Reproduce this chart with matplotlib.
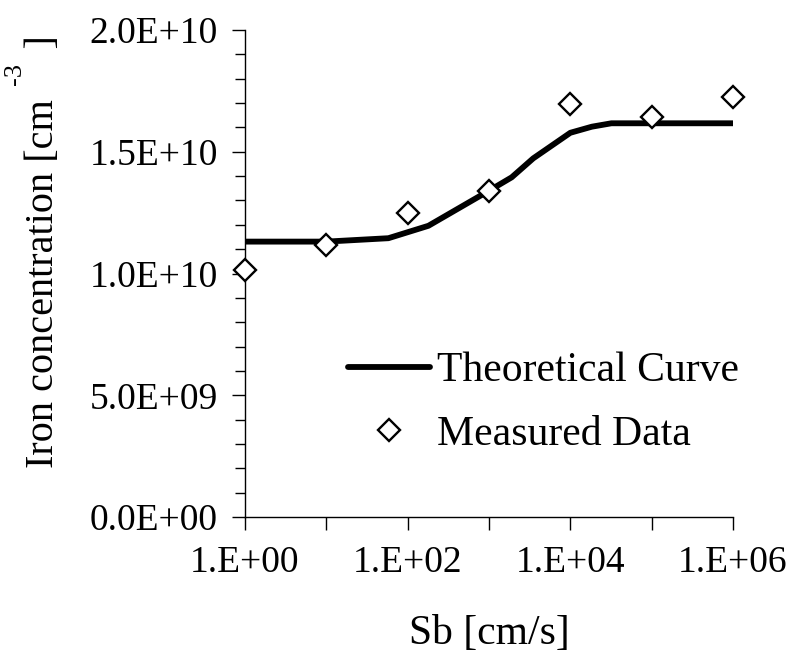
import numpy as np
import matplotlib
import matplotlib.pyplot as plt
from matplotlib.ticker import FixedLocator, FuncFormatter, MultipleLocator, LogLocator, NullFormatter

matplotlib.use('Agg')
plt.rcParams['font.family'] = 'Liberation Serif'

# surface recombination velocity Sb [cm/s] vs iron concentration [cm^-3]
sb_theory = [1, 10, 58, 180, 1000, 1900, 3500, 10000, 18400, 32000, 1e5, 1e6]
fe_theory = [1.131e10, 1.131e10, 1.145e10, 1.196e10, 1.34e10, 1.395e10,
             1.473e10, 1.578e10, 1.603e10, 1.617e10, 1.617e10, 1.617e10]

sb_measured = [1, 10, 100, 1000, 1e4, 1e5, 1e6]
fe_measured = [1.014e10, 1.117e10, 1.247e10, 1.340e10, 1.696e10, 1.644e10, 1.724e10]

fig = plt.figure(figsize=(7.91, 6.57), dpi=100)
ax = fig.add_axes([0.3097, 0.2131, 0.617, 0.7412])

ax.plot(sb_theory, fe_theory, color='black', lw=4.2, solid_capstyle='round',
        label='Theoretical Curve', zorder=2)
ax.plot(sb_measured, fe_measured, ls='none', marker='D', ms=11.5, mfc='white',
        mec='black', mew=1.7, label='Measured Data', zorder=3, clip_on=False)

ax.set_xscale('log')
ax.set_xlim(1, 1e6)
ax.set_ylim(0, 2e10)

for side in ('top', 'right'):
    ax.spines[side].set_visible(False)
for side in ('left', 'bottom'):
    ax.spines[side].set_linewidth(1.0)

decades = [10.0 ** k for k in range(7)]
ax.xaxis.set_major_locator(FixedLocator(decades))
ax.xaxis.set_major_formatter(FuncFormatter(
    lambda v, p: f"1.E+{int(round(np.log10(v))):02d}" if round(np.log10(v)) % 2 == 0 else ''))
ax.xaxis.set_minor_locator(LogLocator(base=10, subs=np.arange(2, 10)))
ax.xaxis.set_minor_formatter(NullFormatter())

ax.yaxis.set_major_locator(MultipleLocator(5e9))
ax.yaxis.set_minor_locator(MultipleLocator(1e9))
ax.yaxis.set_major_formatter(FuncFormatter(lambda v, p: f"{v:.1E}"))

ax.tick_params(which='major', direction='out', length=9.5, width=1.0, labelsize=27)
ax.tick_params(axis='y', which='major', pad=10)
ax.tick_params(axis='x', which='major', pad=11)
ax.tick_params(which='minor', direction='out', length=7, width=1.0)

ax.set_xlabel('Sb [cm/s]', fontsize=30)
ax.set_ylabel('Iron concentration [cm     ]', fontsize=29)
ax.xaxis.set_label_coords(0.5, -0.2)
ax.yaxis.set_label_coords(-0.375, 0.545)
# superscript exponent of the unit, set as its own text
fig.text(15 / 791, 1 - 74 / 657, '-3', rotation=90, fontsize=19,
         ha='center', va='center')

ax.legend(loc='upper left', bbox_to_anchor=(0.211, 0.339), frameon=False,
          fontsize=30, handlelength=1.97, handletextpad=0.17, labelspacing=0.6,
          borderpad=0, borderaxespad=0, numpoints=1)

fig.savefig('out.png', dpi=100)
